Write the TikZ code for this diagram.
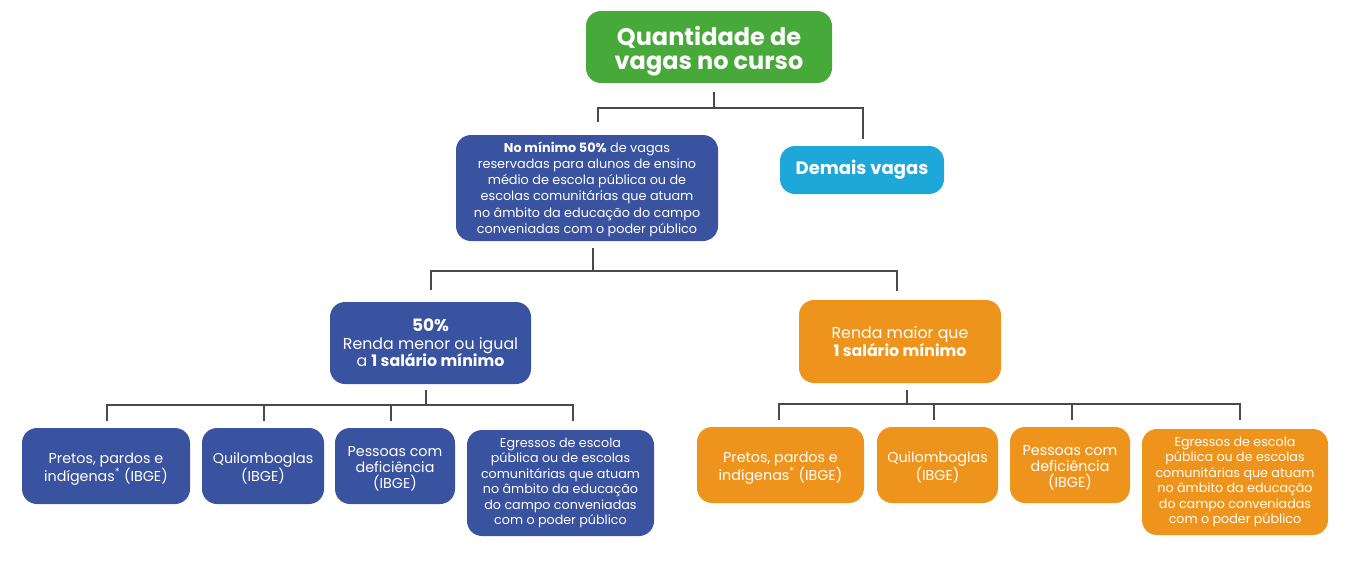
\documentclass[tikz,border=0pt]{standalone}
\usepackage{fontspec}
\setmainfont{Poppins}
\definecolor{cgreen}{HTML}{47A939}
\definecolor{cblue}{HTML}{3A53A0}
\definecolor{ccyan}{HTML}{1EA8DA}
\definecolor{corange}{HTML}{EE941D}
\definecolor{cline}{HTML}{4A4A4A}
\tikzset{
  box/.style={rounded corners=15pt, draw=none, text=white, align=center, inner sep=0pt},
  bluebox/.style={box, fill=cblue},
  orangebox/.style={box, fill=corange},
  conn/.style={draw=cline, line width=1.3pt},
  egr/.style={font=\fontsize{12.7}{15.5}\selectfont},
  mid/.style={font=\fontsize{15.8}{17.5}\selectfont},
  low/.style={font=\fontsize{14.3}{15.8}\selectfont},
}
\begin{document}
\begin{tikzpicture}[x=1pt,y=-1pt]
\useasboundingbox (0,0) rectangle (1361,560);
% boxes
\node[box, fill=cgreen, minimum width=246pt, minimum height=72pt, font=\bfseries\fontsize{24}{24.5}\selectfont] (top) at (709,47) {\rule{0pt}{28pt}Quantidade de\\vagas no curso};
\node[bluebox, minimum width=262pt, minimum height=106pt, font=\fontsize{12.8}{16.2}\selectfont] (blue) at (587,188) {\rule{0pt}{13pt}\textbf{No mínimo 50\%} de vagas\\reservadas para alunos de ensino\\médio de escola pública ou de\\escolas comunitárias que atuam\\no âmbito da educação do campo\\conveniadas com o poder público};
\node[box, fill=ccyan, minimum width=164pt, minimum height=48pt, font=\bfseries\fontsize{18}{20}\selectfont] (demais) at (862,170) {Demais vagas};
\node[bluebox, minimum width=201pt, minimum height=82pt, mid] (fifty) at (430.5,343) {{\bfseries\fontsize{17}{17}\selectfont 50\%}\\Renda menor ou igual\\a \textbf{1 salário mínimo}};
\node[orangebox, minimum width=202pt, minimum height=83pt, mid] (maior) at (900,341.5) {Renda maior que\\\textbf{1 salário mínimo}};
% bottom left
\node[bluebox, minimum width=168pt, minimum height=76pt, low] (L1) at (106,466) {\rule{0pt}{16pt}Pretos, pardos e\\indígenas\textsuperscript{*} (IBGE)};
\node[bluebox, minimum width=122pt, minimum height=76pt, low] (L2) at (263,466) {\rule{0pt}{16pt}Quilomboglas\\(IBGE)};
\node[bluebox, minimum width=120pt, minimum height=76pt, low] (L3) at (395,466) {\rule{0pt}{16pt}Pessoas com\\deficiência\\(IBGE)};
\node[bluebox, minimum width=187pt, minimum height=106pt, egr] (L4) at (560.5,483) {Egressos de escola\\pública ou de escolas\\comunitárias que atuam\\no âmbito da educação\\do campo conveniadas\\com o poder público};
% bottom right
\node[orangebox, minimum width=167pt, minimum height=76pt, low] (R1) at (780.5,465) {\rule{0pt}{16pt}Pretos, pardos e\\indígenas\textsuperscript{*} (IBGE)};
\node[orangebox, minimum width=121pt, minimum height=76pt, low] (R2) at (937.5,465) {\rule{0pt}{16pt}Quilomboglas\\(IBGE)};
\node[orangebox, minimum width=120pt, minimum height=76pt, low] (R3) at (1070,465) {\rule{0pt}{16pt}Pessoas com\\deficiência\\(IBGE)};
\node[orangebox, minimum width=186pt, minimum height=106pt, egr] (R4) at (1235,482) {Egressos de escola\\pública ou de escolas\\comunitárias que atuam\\no âmbito da educação\\do campo conveniadas\\com o poder público};
% bus coordinates
\coordinate (b1) at (714,108);
\coordinate (b2) at (593,271);
\coordinate (b3) at (426,405);
\coordinate (b4) at (907,404);
% connectors top
\draw[conn] ([xshift=5pt,yshift=-9pt]top.south) -- (b1);
\draw[conn] ([xshift=11pt,yshift=13pt]blue.north) |- (b1) -| ([xshift=1pt,yshift=7pt]demais.north);
% connectors middle
\draw[conn] ([xshift=6pt,yshift=-7pt]blue.south) -- (b2);
\draw[conn] ([xshift=0.5pt,yshift=12pt]fifty.north) |- (b2) -| ([xshift=-3pt,yshift=9pt]maior.north);
% connectors bottom left
\draw[conn] ([xshift=-4.5pt,yshift=-6pt]fifty.south) -- (b3);
\draw[conn] ([xshift=1pt,yshift=7pt]L1.north) |- (b3) -| ([xshift=12.5pt,yshift=9pt]L4.north);
\draw[conn] ([xshift=1pt,yshift=7pt]L2.north) -- ([xshift=1pt]L2.north |- b3);
\draw[conn] ([xshift=-4pt,yshift=7pt]L3.north) -- ([xshift=-4pt]L3.north |- b3);
% connectors bottom right
\draw[conn] ([xshift=7pt,yshift=-7pt]maior.south) -- (b4);
\draw[conn] ([xshift=-1.5pt,yshift=7pt]R1.north) |- (b4) -| ([xshift=5pt,yshift=9pt]R4.north);
\draw[conn] ([xshift=-3.5pt,yshift=7pt]R2.north) -- ([xshift=-3.5pt]R2.north |- b4);
\draw[conn] ([xshift=2pt,yshift=7pt]R3.north) -- ([xshift=2pt]R3.north |- b4);
\end{tikzpicture}
\end{document}
